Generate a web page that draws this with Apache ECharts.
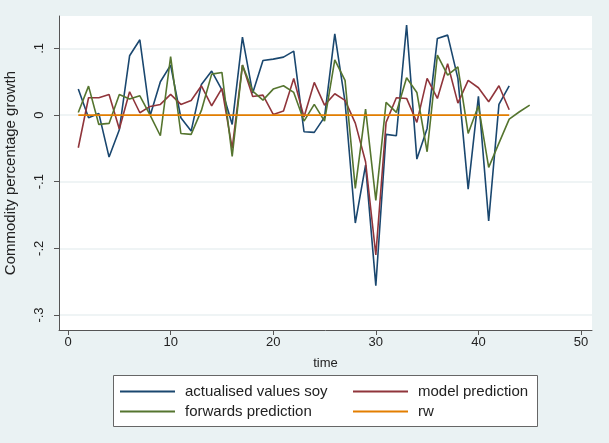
<!DOCTYPE html>
<html>
<head>
<meta charset="utf-8">
<script src="https://cdn.jsdelivr.net/npm/echarts@6/dist/echarts.min.js"></script>
<style>
  html, body { margin: 0; padding: 0; background: #eaf2f3; }
  #chart { width: 609px; height: 443px; }
</style>
</head>
<body>
<div id="chart"></div>
<script>
// time index and series
const actualSoy = [0.039, -0.004, 0.0025, -0.063, -0.022, 0.089, 0.113, -0.001, 0.05, 0.075,
  -0.004, -0.024, 0.046, 0.066, 0.038, -0.014, 0.117, 0.033, 0.082, 0.084,
  0.087, 0.096, -0.025, -0.026, -0.003, 0.122, 0.02, -0.162, -0.075, -0.256,
  -0.029, -0.031, 0.135, -0.066, -0.02, 0.115, 0.12, 0.055, -0.111, 0.028,
  -0.159, 0.016, 0.044];
const modelPred = [-0.049, 0.026, 0.026, 0.031, -0.021, 0.035, 0.0035, 0.013, 0.016, 0.031,
  0.016, 0.022, 0.044, 0.014, 0.04, -0.05, 0.075, 0.028, 0.03, 0.001,
  0.006, 0.055, -0.003, 0.049, 0.015, 0.032, 0.022, -0.012, -0.07, -0.21,
  -0.011, 0.026, 0.025, -0.011, 0.055, 0.025, 0.077, 0.018, 0.052, 0.041,
  0.02, 0.044, 0.008];
const forwardPred = [0.004, 0.0435, -0.014, -0.0125, 0.031, 0.024, 0.029, 0.0, -0.031, 0.0877,
  -0.0276, -0.029, 0.007, 0.0615, 0.064, -0.062, 0.075, 0.036, 0.0225, 0.039,
  0.044, 0.034, -0.009, 0.016, -0.009, 0.083, 0.052, -0.11, 0.009, -0.128,
  0.019, 0.004, 0.056, 0.034, -0.055, 0.09, 0.06, 0.0725, -0.0275, 0.014,
  -0.0785, -0.042, -0.006, 0.005, 0.015];
const rw = new Array(43).fill(0);

const xTicks = [0, 10, 20, 30, 40, 50];
const yTicks = [-0.3, -0.2, -0.1, 0, 0.1];

function pairs(arr) {
  return arr.map((v, i) => [i + 1, v]);
}
function fmtY(v) {
  if (Math.abs(v) < 1e-9) return "0";
  return (v < 0 ? "-" : "") + "." + Math.round(Math.abs(v) * 10);
}

const chart = echarts.init(document.getElementById("chart"));
const font = "Liberation Sans";
const legendText = { fontSize: 15, color: "#222", fontFamily: font, padding: [0, 0, 0, 5] };

chart.setOption({
  animation: false,
  backgroundColor: "#eaf2f3",
  textStyle: { fontFamily: font },
  grid: {
    left: 59, right: 17, top: 16, bottom: 113,
    outerBoundsMode: "none", containLabel: false,
    show: true, backgroundColor: "#ffffff", borderWidth: 0
  },
  graphic: [{
    type: "rect",
    left: 113, top: 375,
    shape: { width: 424, height: 51 },
    style: { fill: "#ffffff", stroke: "#666666", lineWidth: 1 },
    z: -1
  }],
  legend: [
    {
      data: ["actualised values soy", "forwards prediction"],
      orient: "vertical",
      left: 120, top: 384, padding: 0,
      icon: "rect", itemWidth: 55, itemHeight: 2, itemGap: 5,
      textStyle: legendText
    },
    {
      data: ["model prediction", "rw"],
      orient: "vertical",
      left: 353, top: 384, padding: 0,
      icon: "rect", itemWidth: 55, itemHeight: 2, itemGap: 5,
      textStyle: legendText
    }
  ],
  xAxis: {
    type: "value",
    min: -0.88, max: 51.07,
    name: "time",
    nameLocation: "middle",
    nameGap: 27,
    nameTextStyle: { fontSize: 13, color: "#222", fontFamily: font },
    axisLine: { show: true, onZero: false, lineStyle: { color: "#555", width: 1 } },
    axisTick: { show: true, length: 5, lineStyle: { color: "#555" }, customValues: xTicks },
    axisLabel: { fontSize: 13, color: "#222", margin: 6, customValues: xTicks },
    splitLine: { show: false }
  },
  yAxis: {
    type: "value",
    min: -0.3225, max: 0.1487,
    name: "Commodity percentage growth",
    nameLocation: "middle",
    nameGap: 41,
    nameTextStyle: { fontSize: 15, color: "#222", fontFamily: font },
    axisLine: { show: true, onZero: false, lineStyle: { color: "#555", width: 1 } },
    axisTick: { show: true, length: 5, lineStyle: { color: "#555" }, customValues: yTicks },
    axisLabel: {
      fontSize: 13, color: "#222", rotate: 90, margin: 13,
      customValues: yTicks, formatter: fmtY
    },
    splitLine: { show: true, lineStyle: { color: "#eaf0f2", width: 1.5 } }
  },
  series: [
    {
      name: "actualised values soy", type: "line", data: pairs(actualSoy),
      symbol: "none", color: "#1a476f", lineStyle: { width: 1.6 }
    },
    {
      name: "model prediction", type: "line", data: pairs(modelPred),
      symbol: "none", color: "#90353b", lineStyle: { width: 1.6 }
    },
    {
      name: "forwards prediction", type: "line", data: pairs(forwardPred),
      symbol: "none", color: "#55752f", lineStyle: { width: 1.6 }
    },
    {
      name: "rw", type: "line", data: pairs(rw),
      symbol: "none", color: "#e37e00", lineStyle: { width: 1.6 }
    }
  ]
});
</script>
</body>
</html>
